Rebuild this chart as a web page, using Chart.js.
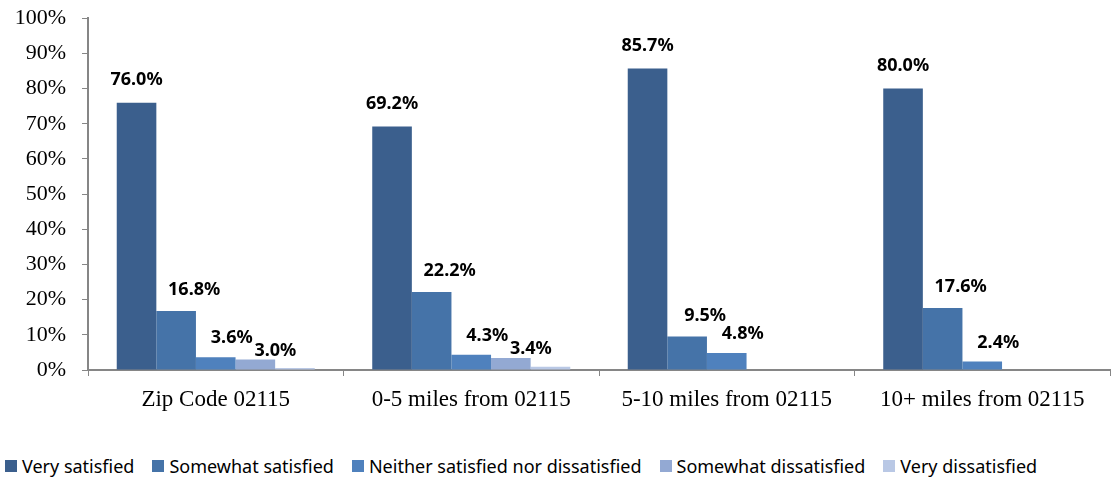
<!DOCTYPE html>
<html>
<head>
<meta charset="utf-8">
<script src="https://cdn.jsdelivr.net/npm/chart.js@4.4.1/dist/chart.umd.min.js"></script>
<style>
    body { margin: 0; background: #fff; }
    #wrap { position: relative; width: 1112px; height: 477px; overflow: hidden; }
    #chart { position: absolute; left: 0; top: -11px; }
    #legend {
        position: absolute; left: 5px; top: 454px;
        display: flex; align-items: center;
        font-family: 'Noto Sans', sans-serif; font-size: 18px; color: #000;
        white-space: nowrap;
    }
    #legend .item { display: flex; align-items: center; margin-right: 18px; }
    #legend .box { width: 12px; height: 12px; margin-right: 5px; }
</style>
</head>
<body>
<div id="wrap">
    <canvas id="chart" width="1112" height="451"></canvas>
    <div id="legend"></div>
</div>
<script>
// Chart data
const categories = ['Zip Code 02115', '0-5 miles from 02115', '5-10 miles from 02115', '10+ miles from 02115'];
const seriesNames = ['Very satisfied', 'Somewhat satisfied', 'Neither satisfied nor dissatisfied', 'Somewhat dissatisfied', 'Very dissatisfied'];
const verySatisfied = [76.0, 69.2, 85.7, 80.0];
const somewhatSatisfied = [16.8, 22.2, 9.5, 17.6];
const neither = [3.6, 4.3, 4.8, 2.4];
const somewhatDissatisfied = [3.0, 3.4, 0, 0];
const veryDissatisfied = [0.6, 0.9, 0, 0];
const yTicks = [0, 10, 20, 30, 40, 50, 60, 70, 80, 90, 100];

const seriesColors = ['#3b5f8d', '#4573a8', '#4f81bd', '#93a9d3', '#b9c8e5'];
const seriesValues = [verySatisfied, somewhatSatisfied, neither, somewhatDissatisfied, veryDissatisfied];

// Value labels above the bars (the last series has none)
// offsets per series, roughly where the labels sit in the original
const labelDx = [0, 18, 16, 20];
const labelDy = [14, 12, 10, 0];
const valueLabels = {
    id: 'valueLabels',
    afterDatasetsDraw(chart) {
        const ctx = chart.ctx;
        ctx.save();
        ctx.font = 'bold 18px "Noto Sans", sans-serif';
        ctx.fillStyle = '#000';
        ctx.textAlign = 'center';
        ctx.textBaseline = 'bottom';
        chart.data.datasets.forEach((ds, i) => {
            if (i > 3) return;
            chart.getDatasetMeta(i).data.forEach((bar, j) => {
                const v = ds.data[j];
                if (!v) return;
                ctx.fillText(v.toFixed(1) + '%', bar.x + labelDx[i], bar.y - labelDy[i]);
            });
        });
        ctx.restore();
    }
};

const ctx = document.getElementById('chart').getContext('2d');
const chart = new Chart(ctx, {
    type: 'bar',
    data: {
        labels: categories,
        datasets: seriesNames.map((name, i) => ({
            label: name,
            data: seriesValues[i],
            backgroundColor: seriesColors[i],
            borderWidth: 0,
            categoryPercentage: 0.775,
            barPercentage: 1
        }))
    },
    options: {
        responsive: false,
        animation: false,
        layout: { padding: { top: 6, right: 2, left: 0, bottom: 0 } },
        plugins: {
            legend: { display: false },
            tooltip: { enabled: false }
        },
        scales: {
            x: {
                grid: { drawOnChartArea: false, drawTicks: true, tickLength: 6, color: '#868686', offset: true },
                border: { color: '#868686', width: 2 },
                ticks: {
                    color: '#000',
                    padding: 10,
                    font: { family: '"Liberation Serif", serif', size: 23 }
                },
                afterFit: function(scale) { scale.height = 70; }
            },
            y: {
                min: 0,
                max: 100,
                afterBuildTicks: function(scale) {
                    scale.ticks = yTicks.map(v => ({ value: v }));
                },
                grid: { drawOnChartArea: false, drawTicks: true, tickLength: 6, color: '#868686' },
                border: { color: '#868686', width: 2 },
                ticks: {
                    color: '#000',
                    padding: 16,
                    font: { family: '"Liberation Serif", serif', size: 22 },
                    callback: function(value) { return value + '%'; }
                },
                afterFit: function(scale) { scale.width = 88; }
            }
        }
    },
    plugins: [valueLabels]
});

// HTML legend
const legend = document.getElementById('legend');
seriesNames.forEach((name, i) => {
    const item = document.createElement('div');
    item.className = 'item';
    item.innerHTML = '<span class="box" style="background:' + seriesColors[i] + '"></span>' + name;
    legend.appendChild(item);
});
</script>
</body>
</html>
